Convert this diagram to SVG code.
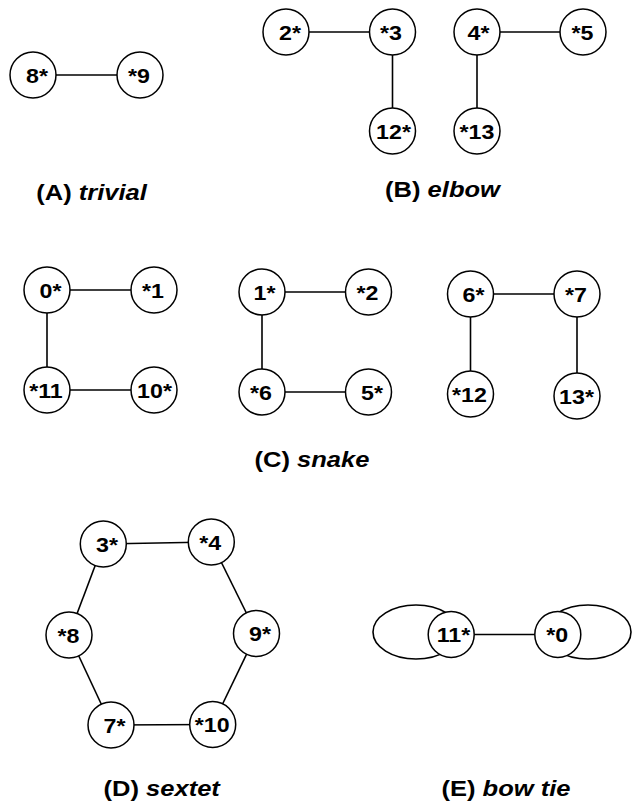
<svg xmlns="http://www.w3.org/2000/svg" width="632" height="807" viewBox="0 0 632 807">
  <style>
    .edge { stroke: #000; stroke-width: 1.6; fill: none; }
    .node circle { fill: #fff; stroke: #000; stroke-width: 1.5; }
    .lbl { font-family: "Liberation Sans", Arial, sans-serif; font-weight: bold; font-size: 20px; text-anchor: middle; fill: #000; }
    .cap { font-family: "Liberation Sans", Arial, sans-serif; font-weight: bold; font-size: 22px; text-anchor: middle; fill: #000; }
    .cap .it { font-style: italic; }
  </style>
  <rect width="632" height="807" fill="#fff"/>

  <!-- connectors -->
  <g id="connectors">
    <!-- (A) trivial -->
    <line class="edge" x1="33" y1="75" x2="140" y2="75"/>
    <!-- (B) elbow -->
    <line class="edge" x1="286" y1="32" x2="392.5" y2="32"/>
    <line class="edge" x1="392.5" y1="32" x2="392.5" y2="131"/>
    <line class="edge" x1="477" y1="32" x2="583" y2="32"/>
    <line class="edge" x1="477" y1="32" x2="477" y2="131"/>
    <!-- (C) snake -->
    <line class="edge" x1="47" y1="290" x2="154" y2="290"/>
    <line class="edge" x1="47" y1="290" x2="47" y2="390"/>
    <line class="edge" x1="47" y1="390" x2="154" y2="390"/>
    <line class="edge" x1="262" y1="292" x2="368.5" y2="292"/>
    <line class="edge" x1="262" y1="292" x2="262" y2="392"/>
    <line class="edge" x1="262" y1="392" x2="368.5" y2="392"/>
    <line class="edge" x1="470.5" y1="294" x2="577" y2="294"/>
    <line class="edge" x1="470.5" y1="294" x2="470.5" y2="394"/>
    <line class="edge" x1="577" y1="294" x2="577" y2="396"/>
    <!-- (D) sextet -->
    <line class="edge" x1="103.3" y1="544" x2="211.3" y2="542"/>
    <line class="edge" x1="211.3" y1="542" x2="256.5" y2="633.5"/>
    <line class="edge" x1="256.5" y1="633.5" x2="212.7" y2="724.5"/>
    <line class="edge" x1="212.7" y1="724.5" x2="111" y2="725"/>
    <line class="edge" x1="111" y1="725" x2="69" y2="635"/>
    <line class="edge" x1="69" y1="635" x2="103.3" y2="544"/>
    <!-- (E) bow tie -->
    <line class="edge" x1="451.2" y1="634.5" x2="557.8" y2="634.5"/>
    <ellipse class="edge" cx="416" cy="632" rx="43" ry="27"/>
    <ellipse class="edge" cx="588" cy="632" rx="43" ry="27"/>
  </g>

  <!-- (A) trivial -->
  <g id="a-8" class="node"><circle cx="33" cy="75" r="23"/><text class="lbl" transform="translate(37,82.5) scale(1.16,1)">8*</text></g>
  <g id="a-9" class="node"><circle cx="140" cy="75" r="23"/><text class="lbl" transform="translate(139,82.5) scale(1.16,1)">*9</text></g>

  <!-- (B) elbow -->
  <g id="b-2" class="node"><circle cx="286" cy="32" r="23"/><text class="lbl" transform="translate(290,39.5) scale(1.16,1)">2*</text></g>
  <g id="b-3" class="node"><circle cx="392.5" cy="32" r="23"/><text class="lbl" transform="translate(391,39.5) scale(1.16,1)">*3</text></g>
  <g id="b-12" class="node"><circle cx="392.5" cy="131" r="23"/><text class="lbl" transform="translate(393.5,138.5) scale(1.16,1)">12*</text></g>
  <g id="b-4" class="node"><circle cx="477" cy="32" r="23"/><text class="lbl" transform="translate(478.5,39.5) scale(1.16,1)">4*</text></g>
  <g id="b-5" class="node"><circle cx="583" cy="32" r="23"/><text class="lbl" transform="translate(582.5,39.5) scale(1.16,1)">*5</text></g>
  <g id="b-13" class="node"><circle cx="477" cy="131" r="23"/><text class="lbl" transform="translate(477,138.5) scale(1.16,1)">*13</text></g>

  <!-- (C) snake -->
  <g id="c-0" class="node"><circle cx="47" cy="290" r="23"/><text class="lbl" transform="translate(50.5,297.5) scale(1.16,1)">0*</text></g>
  <g id="c-1" class="node"><circle cx="154" cy="290" r="23"/><text class="lbl" transform="translate(153,297.5) scale(1.16,1)">*1</text></g>
  <g id="c-11" class="node"><circle cx="47" cy="390" r="23"/><text class="lbl" transform="translate(46,397.5) scale(1.16,1)">*11</text></g>
  <g id="c-10" class="node"><circle cx="154" cy="390" r="23"/><text class="lbl" transform="translate(154.5,397.5) scale(1.16,1)">10*</text></g>
  <g id="c-1b" class="node"><circle cx="262" cy="292" r="23"/><text class="lbl" transform="translate(264.5,299.5) scale(1.16,1)">1*</text></g>
  <g id="c-2" class="node"><circle cx="368.5" cy="292" r="23"/><text class="lbl" transform="translate(367.5,299.5) scale(1.16,1)">*2</text></g>
  <g id="c-6" class="node"><circle cx="262" cy="392" r="23"/><text class="lbl" transform="translate(261,399.5) scale(1.16,1)">*6</text></g>
  <g id="c-5" class="node"><circle cx="368.5" cy="392" r="23"/><text class="lbl" transform="translate(372,399.5) scale(1.16,1)">5*</text></g>
  <g id="c-6b" class="node"><circle cx="470.5" cy="294" r="23"/><text class="lbl" transform="translate(473.5,301.5) scale(1.16,1)">6*</text></g>
  <g id="c-7" class="node"><circle cx="577" cy="294" r="23"/><text class="lbl" transform="translate(576,301.5) scale(1.16,1)">*7</text></g>
  <g id="c-12" class="node"><circle cx="470.5" cy="394" r="23"/><text class="lbl" transform="translate(469.5,401.5) scale(1.16,1)">*12</text></g>
  <g id="c-13" class="node"><circle cx="577" cy="396" r="23"/><text class="lbl" transform="translate(576.5,403.5) scale(1.16,1)">13*</text></g>

  <!-- (D) sextet -->
  <g id="d-3" class="node"><circle cx="103.3" cy="544" r="23"/><text class="lbl" transform="translate(107,551.5) scale(1.16,1)">3*</text></g>
  <g id="d-4" class="node"><circle cx="211.3" cy="542" r="23"/><text class="lbl" transform="translate(210.3,549.5) scale(1.16,1)">*4</text></g>
  <g id="d-8" class="node"><circle cx="69" cy="635" r="23"/><text class="lbl" transform="translate(68.5,642.5) scale(1.16,1)">*8</text></g>
  <g id="d-9" class="node"><circle cx="256.5" cy="633.5" r="23"/><text class="lbl" transform="translate(260,641) scale(1.16,1)">9*</text></g>
  <g id="d-7" class="node"><circle cx="111" cy="725" r="23"/><text class="lbl" transform="translate(114.5,732.5) scale(1.16,1)">7*</text></g>
  <g id="d-10" class="node"><circle cx="212.7" cy="724.5" r="23"/><text class="lbl" transform="translate(212.2,732) scale(1.16,1)">*10</text></g>

  <!-- (E) bow tie -->
  <g id="e-11" class="node"><circle cx="451.2" cy="634.5" r="23"/><text class="lbl" transform="translate(453.5,642) scale(1.16,1)">11*</text></g>
  <g id="e-0" class="node"><circle cx="557.8" cy="634.5" r="23"/><text class="lbl" transform="translate(557.3,642) scale(1.16,1)">*0</text></g>

  <!-- captions -->
  <g id="captions">
    <text class="cap" transform="translate(91.5,200) scale(1.16,1)">(A) <tspan class="it">trivial</tspan></text>
    <text class="cap" transform="translate(442.5,197) scale(1.16,1)">(B) <tspan class="it">elbow</tspan></text>
    <text class="cap" transform="translate(312,467) scale(1.16,1)">(C) <tspan class="it">snake</tspan></text>
    <text class="cap" transform="translate(161.7,796) scale(1.16,1)">(D) <tspan class="it">sextet</tspan></text>
    <text class="cap" transform="translate(506,796) scale(1.16,1)">(E) <tspan class="it">bow tie</tspan></text>
  </g>
</svg>
